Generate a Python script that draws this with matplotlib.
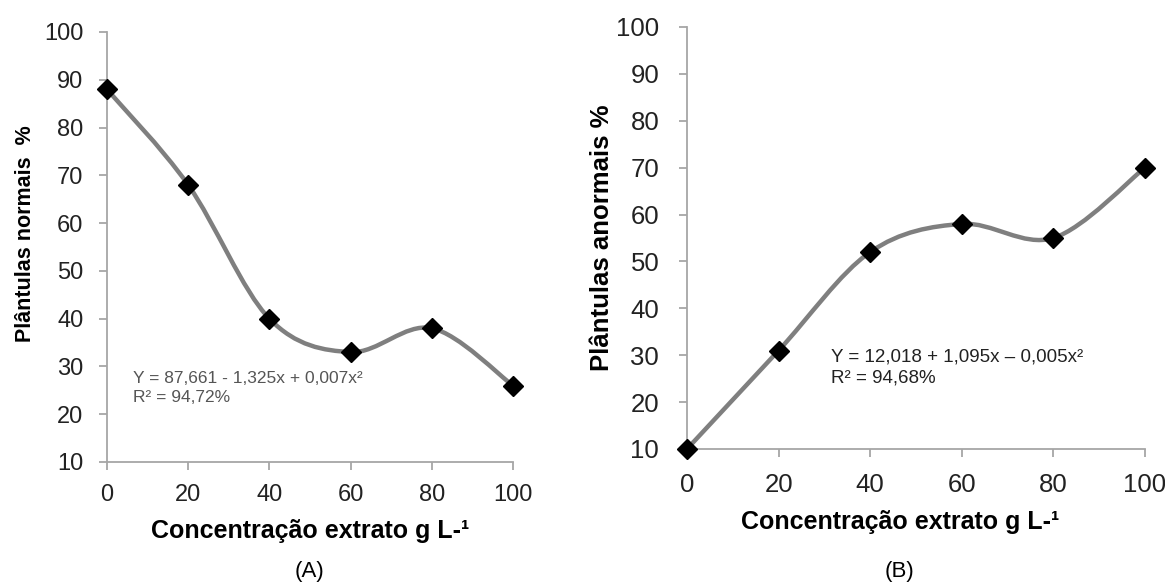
import numpy as np
import matplotlib.pyplot as plt
from matplotlib.path import Path
from matplotlib.patches import PathPatch

plt.rcParams['font.family'] = ['Liberation Sans', 'DejaVu Sans']

# dados
conc = [0, 20, 40, 60, 80, 100]
normais = [88, 68, 40, 33, 38, 26]
anormais = [10, 31, 52, 58, 55, 70]

eq_a = "Y = 87,661 - 1,325x + 0,007x²\nR² = 94,72%"
eq_b = "Y = 12,018 + 1,095x – 0,005x²\nR² = 94,68%"


def smooth_path(x, y, t=1/6):
    # linha suavizada tipo Excel (bezier entre os pontos)
    x = np.asarray(x, float)
    y = np.asarray(y, float)
    verts = [(x[0], y[0])]
    codes = [Path.MOVETO]
    n = len(x)
    for i in range(n - 1):
        p0 = np.array([x[max(i - 1, 0)], y[max(i - 1, 0)]])
        p1 = np.array([x[i], y[i]])
        p2 = np.array([x[i + 1], y[i + 1]])
        p3 = np.array([x[min(i + 2, n - 1)], y[min(i + 2, n - 1)]])
        c1 = p1 + (p2 - p0) * t
        c2 = p2 - (p3 - p1) * t
        verts += [tuple(c1), tuple(c2), tuple(p2)]
        codes += [Path.CURVE4] * 3
    return Path(verts, codes)


def painel(ax, y, ylabel, eq, eq_xy, eq_color, eq_fs, tick_fs, ylab_fs,
           xpad, ypad, ylab_xy, xlab_xy):
    ax.add_patch(PathPatch(smooth_path(conc, y), fill=False, edgecolor='#7f7f7f',
                           lw=3.2, zorder=2))
    ax.plot(conc, y, linestyle='none', marker='D', color='black', ms=10,
            zorder=3, clip_on=False)
    ax.set_xlim(0, 100)
    ax.set_ylim(10, 100)
    ax.set_xticks(range(0, 101, 20))
    ax.set_yticks(range(10, 101, 10))
    for s in ['top', 'right']:
        ax.spines[s].set_visible(False)
    for s in ['left', 'bottom']:
        ax.spines[s].set_color('#a6a6a6')
        ax.spines[s].set_linewidth(1.3)
    ax.tick_params(colors='#a6a6a6', labelcolor='#222222', labelsize=tick_fs,
                   length=6, width=1.3)
    ax.tick_params(axis='x', pad=xpad)
    ax.tick_params(axis='y', pad=ypad)
    ax.set_xlabel("Concentração extrato g L-¹", fontsize=18, fontweight='bold')
    ax.xaxis.set_label_coords(*xlab_xy)
    ax.set_ylabel(ylabel, fontsize=ylab_fs, fontweight='bold')
    ax.yaxis.set_label_coords(*ylab_xy)
    ax.text(eq_xy[0], eq_xy[1], eq, fontsize=eq_fs, color=eq_color, va='top',
            linespacing=1.35)


fig = plt.figure(figsize=(11.65, 5.88), dpi=100)
ax1 = fig.add_axes([0.0918, 0.2143, 0.3485, 0.7313])
ax2 = fig.add_axes([0.5897, 0.2364, 0.3931, 0.7177])

painel(ax1, normais, "Plântulas normais  %", eq_a, (6.3, 29.0), '#555555',
       12.5, 17, 15.5, 10, 11, (-0.175, 0.53), (0.5, -0.132))
painel(ax2, anormais, "Plântulas anormais %", eq_b, (31.5, 31.5), '#222222',
       13.5, 18.5, 18.5, 11, 14, (-0.16, 0.5), (0.465, -0.145))

fig.text(310 / 1165, 1 - 572 / 588, "(A)", ha='center', va='center', fontsize=16)
fig.text(900 / 1165, 1 - 572 / 588, "(B)", ha='center', va='center', fontsize=16)

fig.savefig("out.png", dpi=100)
